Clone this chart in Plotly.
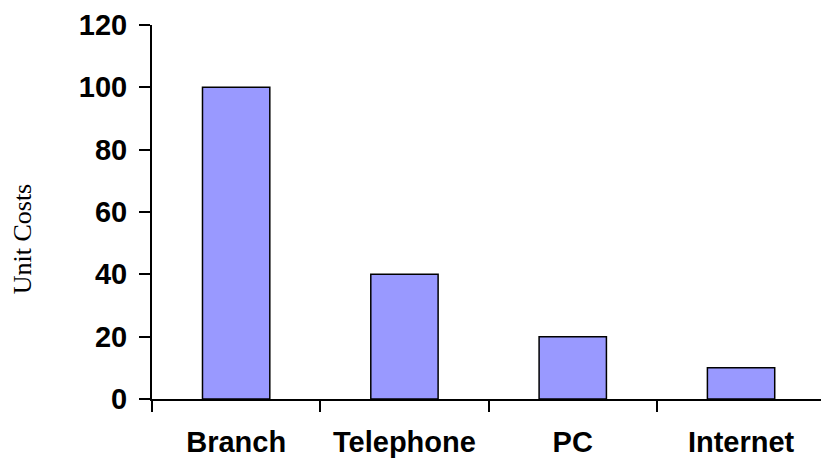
import plotly.graph_objects as go

# Unit cost per delivery channel
channels = ["Branch", "Telephone", "PC", "Internet"]
unit_costs = [100, 40, 20, 10]
y_ticks = [0, 20, 40, 60, 80, 100, 120]

fig = go.Figure(
    go.Bar(
        x=channels,
        y=unit_costs,
        width=0.4,
        marker=dict(color="#9999FF", line=dict(color="#000000", width=1.5)),
    )
)

fig.update_layout(
    width=821,
    height=461,
    margin=dict(l=152, r=0, t=25, b=62),
    paper_bgcolor="white",
    plot_bgcolor="white",
    showlegend=False,
    font=dict(family="Liberation Sans, Arial, sans-serif", color="black"),
)

fig.update_xaxes(
    type="category",
    range=[-0.5, 3.475],
    showline=True,
    linecolor="black",
    linewidth=2,
    ticks="outside",
    tickson="boundaries",
    ticklen=11,
    tickwidth=2,
    tickcolor="black",
    showgrid=False,
    zeroline=False,
    tickfont=dict(size=29, family="Liberation Sans, Arial, sans-serif", weight="bold"),
    ticklabelstandoff=16,
)

fig.update_yaxes(
    range=[0, 120],
    tickvals=y_ticks,
    showline=True,
    linecolor="black",
    linewidth=2,
    ticks="outside",
    ticklen=11,
    tickwidth=2,
    tickcolor="black",
    showgrid=False,
    zeroline=False,
    tickfont=dict(size=29, family="Liberation Sans, Arial, sans-serif", weight="bold"),
    ticklabelstandoff=6,
)

# Axis title placed as a rotated annotation, sitting a little below the plot's mid-height
fig.add_annotation(
    text="Unit Costs",
    textangle=-90,
    xref="paper",
    yref="paper",
    x=0,
    y=0.427,
    xanchor="center",
    yanchor="middle",
    xshift=-130,
    showarrow=False,
    font=dict(size=26, family="Liberation Serif, Times New Roman, serif", color="black"),
)

fig.write_html("out.html")
